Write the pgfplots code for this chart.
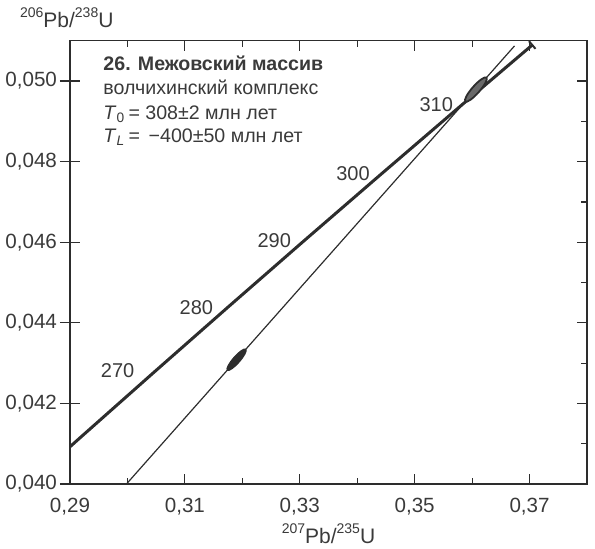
\documentclass[border=0pt]{standalone}
\usepackage{fontspec}
\setmainfont{Liberation Sans}
\usepackage{pgfplots}
\pgfplotsset{compat=1.18}

\definecolor{ink}{RGB}{45,45,45}
\definecolor{txt}{RGB}{58,58,58}
\definecolor{ellfill}{RGB}{105,105,105}

% isotope ratio with raised mass numbers
\newcommand\iso[2]{\raisebox{5pt}{\fontsize{7}{8}\selectfont #1}#2}

% error ellipses of the two analyses (drawn as plot marks)
\pgfdeclareplotmark{ellupper}{%
  \pgfpathellipse{\pgfpointorigin}{\pgfqpoint{8pt}{0pt}}{\pgfqpoint{0pt}{1.9pt}}%
  \pgfusepathqfillstroke}
\pgfdeclareplotmark{elllower}{%
  \pgfpathellipse{\pgfpointorigin}{\pgfqpoint{7pt}{0pt}}{\pgfqpoint{0pt}{1.7pt}}%
  \pgfusepathqfillstroke}

\begin{document}
\begin{tikzpicture}
\path[use as bounding box] (-35pt,-32pt) rectangle (262.5pt,242pt);
\begin{axis}[
  at={(0pt,0pt)}, anchor=south west,
  scale only axis, width=258.5pt, height=221.65pt,
  xmin=0.29, xmax=0.38, ymin=0.040, ymax=0.051,
  scaled x ticks=false, scaled y ticks=false,
  axis line style={ink, line width=0.75pt},
  xtick={0.29,0.31,0.33,0.35,0.37},
  xticklabels={{0,29},{0,31},{0,33},{0,35},{0,37}},
  minor xtick={0.30,0.32,0.34,0.36},
  ytick={0.040,0.042,0.044,0.046,0.048,0.050},
  yticklabels={{0,040},{0,042},{0,044},{0,046},{0,048},{0,050}},
  minor ytick={0.041,0.043,0.045,0.047,0.049},
  tick align=inside, xtick pos=both, ytick pos=right, yticklabel pos=left,
  major tick length=5pt, minor tick length=3pt,
  every tick/.style={ink, line width=0.6pt},
  ticklabel style={font=\fontsize{10.3}{12}\selectfont, text=txt},
  xticklabel style={yshift=-3.5pt},
  yticklabel style={xshift=-3pt},
  every axis x label/.style={at={(rel axis cs:0.5,0)}, anchor=base, yshift=-29.5pt,
    font=\fontsize{10.5}{12}\selectfont, text=txt},
  every axis y label/.style={at={(rel axis cs:0,1)}, anchor=base west,
    xshift=-28.5pt, yshift=6.6pt, font=\fontsize{10.5}{12}\selectfont, text=txt},
  xlabel={\iso{207}{Pb/}\iso{235}{U}},
  ylabel={\iso{206}{Pb/}\iso{238}{U}},
]

% concordia, 258.6--320 Ma
\addplot[ink, line width=1.5pt, line join=round] coordinates {
  (0.29000,0.040924) (0.29183,0.041157) (0.30462,0.042773) (0.31753,0.044392)
  (0.33057,0.046014) (0.34374,0.047637) (0.35704,0.049264) (0.37047,0.050893)
};
% end mark of the concordia at 320 Ma
\addplot[ink, line width=1pt, mark=|, mark size=2.5pt, mark options={rotate=40.5}, only marks]
  coordinates {(0.37047,0.050893)};

% discordia through the two analyses
\addplot[ink, line width=0.6pt] coordinates {(0.29983,0.04000) (0.36738,0.05087)};

% analyses
\addplot[only marks, mark=ellupper, mark options={rotate=48.6, draw=ink, fill=ellfill, line width=0.9pt}]
  coordinates {(0.36066,0.049788)};
\addplot[only marks, mark=elllower, mark options={rotate=48.6, draw=ink, fill=ink, line width=0.6pt}]
  coordinates {(0.31900,0.043084)};

% age labels on the concordia (Ma)
\begin{scope}[every node/.style={font=\fontsize{10}{12}\selectfont, text=txt}]
  \node at (axis cs:0.29830,0.042802) {270};
  \node at (axis cs:0.31201,0.044376) {280};
  \node at (axis cs:0.32555,0.046050) {290};
  \node at (axis cs:0.33926,0.047711) {300};
  \node at (axis cs:0.35376,0.049422) {310};
\end{scope}

% sample description
\begin{scope}[every node/.style={anchor=base west, inner sep=0pt,
    font=\fontsize{9.8}{12}\selectfont, text=txt}]
  \node at (axis cs:0.29576,0.050265) {\textbf{26. Межовский массив}};
  \node at (axis cs:0.29576,0.049670) {волчихинский комплекс};
  \node at (axis cs:0.29576,0.049050) {\textit{T}\textsubscript{0}\,= 308±2 млн лет};
  \node at (axis cs:0.29576,0.048480) {\textit{T}\textsubscript{\textit{L}}\,= \,−400±50 млн лет};
\end{scope}
\end{axis}

% second copy of the frame carrying the left-hand ticks, which cross the axis line
\begin{axis}[
  at={(0pt,0pt)}, anchor=south west,
  scale only axis, width=258.5pt, height=221.65pt,
  xmin=0.29, xmax=0.38, ymin=0.040, ymax=0.051,
  scaled y ticks=false,
  hide x axis, axis y line*=left, axis line style={draw=none},
  ytick={0.040,0.042,0.044,0.046,0.048,0.050}, yticklabels={},
  minor ytick={},
  tick align=center, major tick length=10pt,
  every tick/.style={ink, line width=0.6pt},
]
\end{axis}
\end{tikzpicture}
\end{document}
